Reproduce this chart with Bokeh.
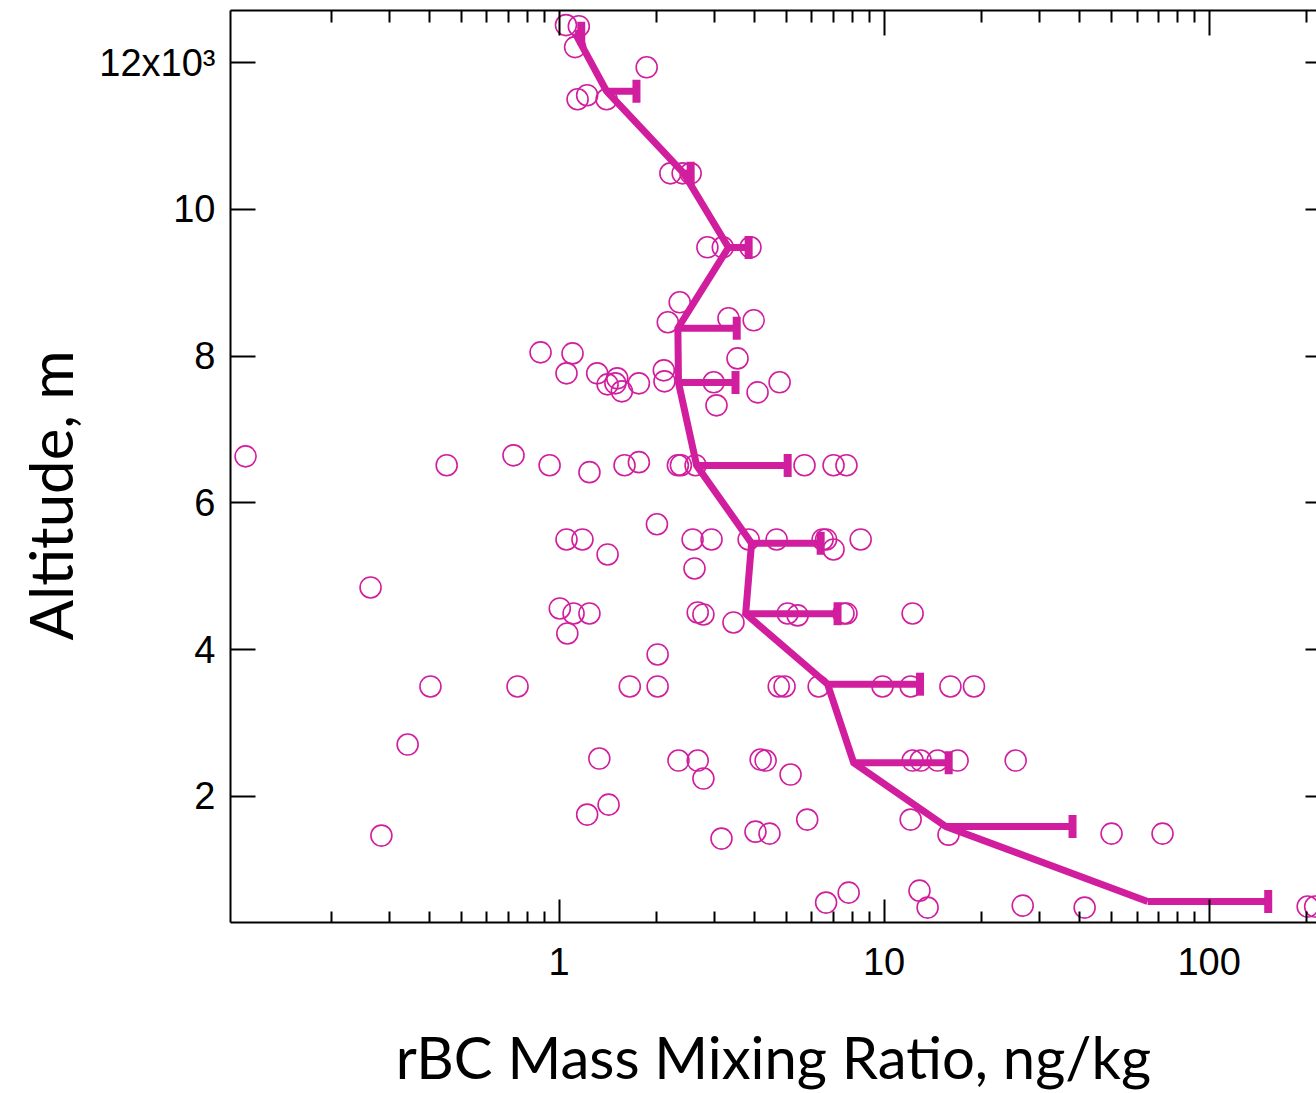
from bokeh.plotting import figure
from bokeh.models import (Range1d, FixedTicker, CustomJSTickFormatter, LinearAxis, LogAxis,
                          Title, Whisker, TeeHead, ColumnDataSource)
from bokeh.embed import file_html
from bokeh.resources import INLINE

# ---- data (rBC mass mixing ratio in ng/kg, altitude in m) ----
pts_x = [1.05, 1.15, 1.12, 1.86, 1.14, 1.22, 1.40,
         2.20, 2.40, 2.54,
         2.86, 3.19, 3.88,
         2.35, 2.16, 3.32, 3.97,
         0.877, 1.10, 1.054, 1.31, 1.41, 1.51, 1.49, 1.56, 1.76, 2.10, 2.11, 2.99, 3.54, 4.08, 4.77, 3.05,
         0.1085, 0.451, 0.724, 0.935, 1.24, 1.59, 1.76, 2.32, 2.37, 2.63, 5.69, 6.99, 7.66,
         2.00, 1.054, 1.18, 1.41, 2.575, 2.61, 2.945, 3.83, 4.67, 6.47, 6.63, 6.99, 8.47,
         0.263, 1.005, 1.108, 1.24, 1.06, 2.67, 2.78, 3.44, 5.05, 5.42, 7.50, 7.66, 12.24,
         2.01, 0.402, 0.745, 1.65, 2.01, 4.74, 4.94, 6.29, 9.89, 12.07, 16.0, 18.9,
         0.342, 1.33, 2.33, 2.67, 2.78, 4.17, 4.32, 5.155, 12.24, 12.96, 14.61, 16.83, 25.4,
         1.42, 1.22, 0.284, 3.16, 4.02, 4.44, 5.80, 12.07, 15.78, 50.1, 71.9,
         6.63, 7.78, 12.85, 13.61, 26.7, 41.4, 201, 212]
pts_alt = [12510, 12495, 12210, 11935, 11500, 11555, 11500,
           10490, 10490, 10490,
           9483, 9483, 9483,
           8733, 8461, 8515, 8488,
           8051, 8037, 7765, 7765, 7615, 7697, 7629, 7520, 7629, 7806, 7656, 7643, 7969, 7506, 7643, 7329,
           6634, 6514, 6648, 6514, 6419, 6514, 6555, 6514, 6514, 6514, 6514, 6514, 6514,
           5709, 5502, 5502, 5298, 5502, 5107, 5502, 5502, 5502, 5502, 5502, 5366, 5502,
           4848, 4562, 4494, 4494, 4221, 4507, 4480, 4371, 4494, 4467, 4494, 4494, 4494,
           3935, 3499, 3499, 3499, 3499, 3499, 3499, 3499, 3499, 3499, 3499, 3499,
           2708, 2517, 2490, 2490, 2244, 2503, 2490, 2299, 2490, 2490, 2490, 2490, 2490,
           1889, 1753, 1467, 1426, 1521, 1494, 1685, 1685, 1480, 1494, 1494,
           554, 690, 717, 486, 513, 486, 500, 500]

mean_x = [1.12, 1.40, 2.42, 3.32, 2.32, 2.33, 2.65, 3.91, 3.75, 6.70, 8.06, 15.5, 64.7]
mean_alt = [12400, 11610, 10490, 9480, 8380, 7640, 6510, 5450, 4490, 3530, 2460, 1590, 570]
err_hi = [1.17, 1.73, 2.54, 3.83, 3.52, 3.49, 5.05, 6.38, 7.19, 12.9, 15.8, 38.0, 152]

x_major = [1, 10, 100]
x_minor = [m * 10.0 ** e for e in (-1, 0, 1, 2) for m in range(2, 10)]
y_major = [2000, 4000, 6000, 8000, 10000, 12000]

x_title = "rBC Mass Mixing Ratio, ng/kg"
y_title = "Altitude, m"

COLOR = "#D11E9E"

p = figure(width=1316, height=1093, x_axis_type="log",
           x_range=Range1d(0.0975, 214), y_range=Range1d(283, 12709),
           output_backend="svg", toolbar_location=None,
           min_border_left=230, min_border_top=10, min_border_right=0, min_border_bottom=171)
p.outline_line_color = None
p.grid.visible = False
p.background_fill_color = "white"
p.border_fill_color = "white"

fmt_x = CustomJSTickFormatter(code="return String(Math.round(tick));")
fmt_y = CustomJSTickFormatter(code="return tick == 12000 ? '12x10\u00b3' : String(Math.round(tick/1000));")

def style(ax):
    ax.axis_line_color = "black"
    ax.axis_line_width = 2
    ax.major_tick_line_color = "black"
    ax.major_tick_line_width = 2
    ax.minor_tick_line_color = "black"
    ax.minor_tick_line_width = 2
    ax.major_tick_out = 0
    ax.minor_tick_out = 0

def hide_labels(ax):
    ax.formatter = CustomJSTickFormatter(code="return '';")
    ax.major_label_text_font_size = "1px"
    ax.major_label_standoff = 0

xa = p.xaxis[0]
style(xa)
xa.ticker = FixedTicker(ticks=x_major, minor_ticks=x_minor)
xa.formatter = fmt_x
xa.major_tick_in = 23
xa.minor_tick_in = 11
xa.major_label_text_font = "Liberation Sans"
xa.major_label_text_font_size = "38px"
xa.major_label_text_color = "black"
xa.major_label_standoff = 25
xa.axis_label = x_title
xa.axis_label_text_font = "Lato"
xa.axis_label_text_font_size = "58px"
xa.axis_label_text_font_style = "normal"
xa.axis_label_text_color = "black"
xa.axis_label_standoff = 44

ya = p.yaxis[0]
style(ya)
ya.ticker = FixedTicker(ticks=y_major, minor_ticks=[])
ya.formatter = fmt_y
ya.major_tick_in = 25
ya.minor_tick_in = 0
ya.major_label_text_font = "Liberation Sans"
ya.major_label_text_font_size = "38px"
ya.major_label_text_color = "black"
ya.major_label_standoff = 15

top = LogAxis(ticker=FixedTicker(ticks=x_major, minor_ticks=x_minor))
style(top)
top.major_tick_in = 25
top.minor_tick_in = 12
hide_labels(top)
p.add_layout(top, "above")

right = LinearAxis(ticker=FixedTicker(ticks=y_major, minor_ticks=[]))
style(right)
right.axis_line_color = None
right.major_tick_in = 11
right.minor_tick_in = 0
hide_labels(right)
p.add_layout(right, "right")

# scatter of individual measurements
p.scatter(pts_x, pts_alt, marker="circle", size=21, fill_color=None,
          line_color=COLOR, line_width=1.6)

# mean profile with one-sided error bars
src = ColumnDataSource(dict(mx=mean_x, alt=mean_alt, hi=err_hi))
wh = Whisker(source=src, base="alt", lower="mx", upper="hi", dimension="width",
             line_color=COLOR, line_width=7,
             upper_head=TeeHead(size=23, line_width=8, line_color=COLOR),
             lower_head=None)
p.add_layout(wh)
p.line("mx", "alt", source=src, line_color=COLOR, line_width=7, line_join="miter")

ytitle = Title(text=y_title, text_font="Lato", text_font_size="60px",
               text_font_style="normal", text_color="black", align="left",
               offset=282, standoff=22)
p.add_layout(ytitle, "left")

open("out.html", "w").write(file_html(p, INLINE))
